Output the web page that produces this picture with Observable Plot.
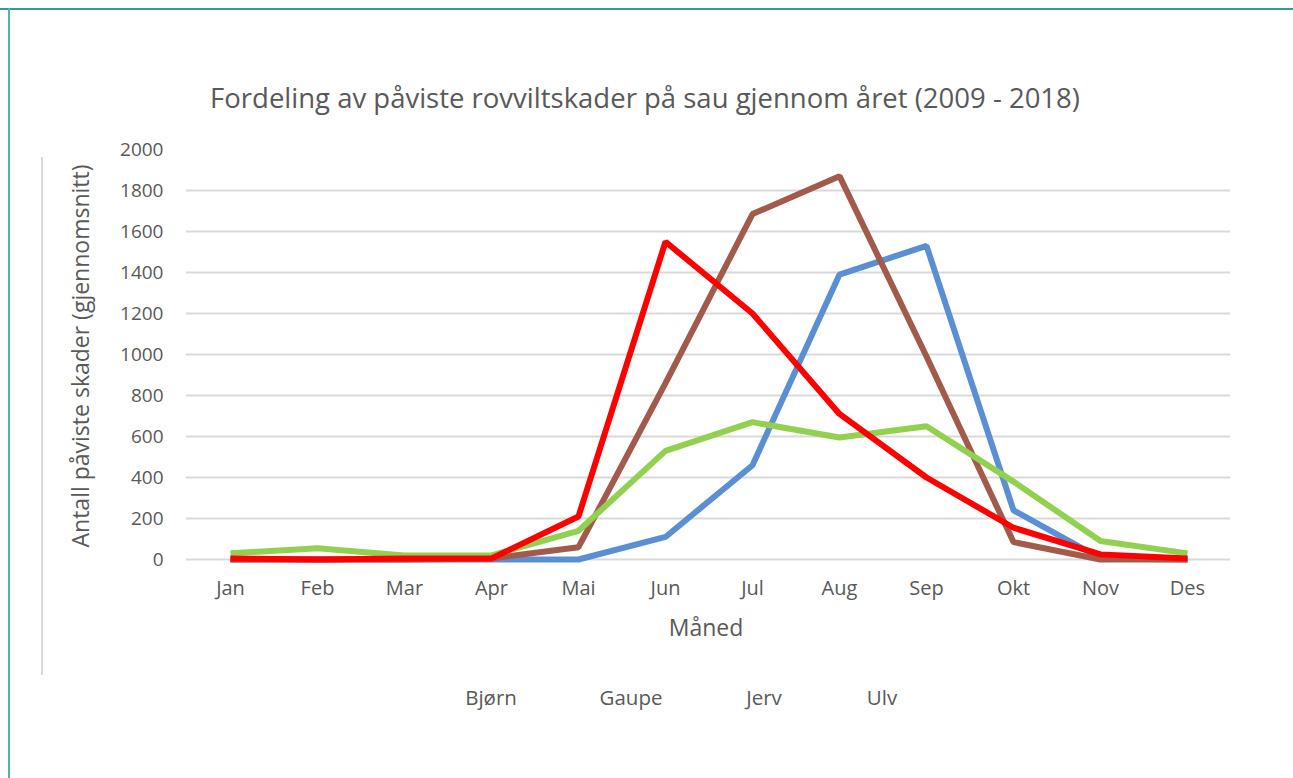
<!DOCTYPE html>
<html>
<head>
<meta charset="utf-8">
<script src="https://cdn.jsdelivr.net/npm/d3@7"></script>
<script src="https://cdn.jsdelivr.net/npm/@observablehq/plot@0.6"></script>
<style>
  html, body { margin: 0; padding: 0; background: #fff; }
  #wrap { position: relative; width: 1293px; height: 778px; overflow: hidden; font-family: "Open Sans", sans-serif; color: #595959; }
  #wrap svg { position: absolute; left: 0; top: 0; }
  .t { position: absolute; white-space: nowrap; transform: translate(-50%, -50%); }
</style>
</head>
<body>
<div id="wrap">
  <div style="position:absolute;left:0;top:8px;width:1293px;height:2px;background:#2f9e94;"></div>
  <div style="position:absolute;left:8px;top:8px;width:2px;height:770px;background:#4db6ac;"></div>
  <div style="position:absolute;left:41px;top:157px;width:2px;height:518px;background:#d9d9d9;"></div>
  <div class="t" style="left:645px;top:97px;font-size:27.5px;">Fordeling av påviste rovviltskader på sau gjennom året (2009 - 2018)</div>
  <div class="t" style="left:80px;top:356px;font-size:23px;transform:translate(-50%,-50%) rotate(-90deg);">Antall påviste skader (gjennomsnitt)</div>
  <div class="t" style="left:706px;top:627px;font-size:23px;">Måned</div>
  <div id="legend"></div>
</div>
<script>
const months = ["Jan","Feb","Mar","Apr","Mai","Jun","Jul","Aug","Sep","Okt","Nov","Des"];
const seriesNames = ["Bjørn","Gaupe","Jerv","Ulv"];
const seriesColors = ["#5b8fd4","#a25a4b","#92d050","#ff0000"];
const bjorn = [0, 0, 0, 0, 0, 110, 460, 1390, 1530, 240, 5, 0];
const gaupe = [0, 0, 0, 5, 60, 860, 1685, 1870, 990, 85, 0, 0];
const jerv  = [30, 55, 20, 20, 140, 530, 670, 595, 650, 380, 90, 30];
const ulv   = [5, 0, 5, 5, 210, 1550, 1200, 710, 400, 155, 25, 5];
const yTicks = [0,200,400,600,800,1000,1200,1400,1600,1800,2000];
const gridTicks = [0,200,400,600,800,1000,1200,1400,1600,1800];
const legendX = [491, 631, 764, 882];

const allValues = [bjorn, gaupe, jerv, ulv];
const rows = [];
seriesNames.forEach((s, i) => months.forEach((m, j) => rows.push({serie: s, month: m, value: allValues[i][j]})));

const W = 1293, H = 778;
const chart = Plot.plot({
  width: W, height: H,
  marginLeft: 186, marginRight: 63, marginTop: 149, marginBottom: H - 559,
  style: {fontFamily: "Open Sans, sans-serif", fontSize: "19px", color: "#595959", background: "transparent"},
  x: {type: "point", domain: months, padding: 0.5, label: null},
  y: {domain: [0, 2000], label: null},
  color: {domain: seriesNames, range: seriesColors},
  marks: [
    Plot.ruleY(gridTicks, {stroke: "#d9d9d9", strokeWidth: 2}),
    Plot.axisY({ticks: yTicks, tickFormat: d => String(d), tickSize: 0, tickPadding: 23, label: null, fontSize: 19, fill: "#595959"}),
    Plot.axisX({tickSize: 0, tickPadding: 21, label: null, fontSize: 20, fill: "#595959"}),
    Plot.line(rows, {x: "month", y: "value", z: "serie", stroke: "serie", strokeWidth: 6, strokeLinejoin: "miter", strokeLinecap: "butt"})
  ]
});
document.getElementById("wrap").prepend(chart);

const lg = document.getElementById("legend");
seriesNames.forEach((s, i) => {
  const d = document.createElement("div");
  d.className = "t";
  d.style.left = legendX[i] + "px";
  d.style.top = "697px";
  d.style.fontSize = "20.5px";
  d.textContent = s;
  lg.appendChild(d);
});
</script>
</body>
</html>
